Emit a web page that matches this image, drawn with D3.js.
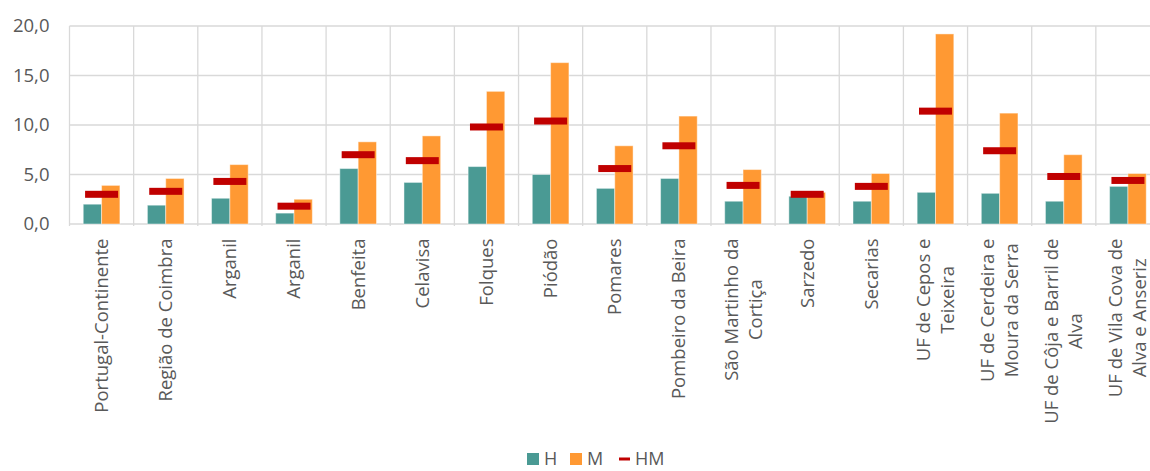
<!DOCTYPE html>
<html>
<head>
<meta charset="utf-8">
<script src="https://cdn.jsdelivr.net/npm/d3@7/dist/d3.min.js"></script>
<style>
  html, body { margin: 0; padding: 0; background: #fff; }
  svg { display: block; font-family: "Open Sans", sans-serif; }
</style>
</head>
<body>
<svg id="chart" width="1150" height="471"></svg>
<script>
const categories = [
  "Portugal-Continente", "Região de Coimbra", "Arganil", "Arganil", "Benfeita",
  "Celavisa", "Folques", "Piódão", "Pomares", "Pombeiro da Beira",
  "São Martinho da\nCortiça", "Sarzedo", "Secarias", "UF de Cepos e\nTeixeira",
  "UF de Cerdeira e\nMoura da Serra", "UF de Côja e Barril de\nAlva", "UF de Vila Cova de\nAlva e Anseriz"
];
const valuesH  = [2.0, 1.9, 2.6, 1.1, 5.6, 4.2, 5.8, 5.0, 3.6, 4.6, 2.3, 2.8, 2.3, 3.2, 3.1, 2.3, 3.8];
const valuesM  = [3.9, 4.6, 6.0, 2.5, 8.3, 8.9, 13.4, 16.3, 7.9, 10.9, 5.5, 3.2, 5.1, 19.2, 11.2, 7.0, 5.1];
const valuesHM = [3.0, 3.3, 4.3, 1.8, 7.0, 6.4, 9.8, 10.4, 5.6, 7.9, 3.9, 3.0, 3.8, 11.4, 7.4, 4.8, 4.4];
const yTicks = [0, 5, 10, 15, 20];
const seriesNames = ["H", "M", "HM"];

const colors = { H: "#4A9A94", M: "#FF9933", HM: "#C00000" };
const textColor = "#595959";
const gridColor = "#D9D9D9";

(function () {
const svg = d3.select("#chart");
const pLeft = 69.5, pRight = 1160, pTop = 26, pBottom = 224;

const x = d3.scaleBand().domain(d3.range(categories.length)).range([pLeft, pRight]).paddingInner(0).paddingOuter(0);
const sub = d3.scaleBand().domain(["H", "M"]).range([0, x.bandwidth()]).paddingInner(0).paddingOuter(0.75);
const y = d3.scaleLinear().domain([0, 20]).range([pBottom, pTop]);

const fmt = v => d3.format(".1f")(v).replace(".", ",");

const g = svg.append("g");
g.selectAll("line.h").data(yTicks).join("line")
  .attr("x1", pLeft).attr("x2", pRight)
  .attr("y1", d => y(d)).attr("y2", d => y(d))
  .attr("stroke", gridColor).attr("stroke-width", 1.3);
g.selectAll("line.v").data(d3.range(categories.length + 1)).join("line")
  .attr("x1", i => pLeft + i * x.step()).attr("x2", i => pLeft + i * x.step())
  .attr("y1", pTop).attr("y2", pBottom + 2)
  .attr("stroke", gridColor).attr("stroke-width", 1.3);

const yAxis = d3.axisLeft(y).tickValues(yTicks).tickFormat(fmt).tickSize(0).tickPadding(20);
const ya = svg.append("g").attr("transform", `translate(${pLeft},0)`).call(yAxis);
ya.select(".domain").remove();
ya.selectAll("text").attr("fill", textColor).style("font-size", "18.5px").style("font-family", "'Open Sans', sans-serif");

const bars = svg.append("g");
bars.selectAll("rect.h").data(valuesH).join("rect")
  .attr("x", (d, i) => x(i) + sub("H"))
  .attr("width", sub.bandwidth())
  .attr("y", d => y(d)).attr("height", d => y(0) - y(d))
  .attr("fill", colors.H).attr("stroke", "rgba(255,255,255,0.45)").attr("stroke-width", 1);
bars.selectAll("rect.m").data(valuesM).join("rect")
  .attr("x", (d, i) => x(i) + sub("M"))
  .attr("width", sub.bandwidth())
  .attr("y", d => y(d)).attr("height", d => y(0) - y(d))
  .attr("fill", colors.M).attr("stroke", "rgba(255,255,255,0.45)").attr("stroke-width", 1);

const mW = x.bandwidth() * 0.514, mH = 7;
bars.selectAll("rect.hm").data(valuesHM).join("rect")
  .attr("x", (d, i) => x(i) + x.bandwidth() / 2 - mW / 2)
  .attr("width", mW)
  .attr("y", d => y(d) - mH / 2).attr("height", mH)
  .attr("fill", colors.HM);

const lineH = 24;
const labels = svg.append("g");
categories.forEach((c, i) => {
  const lines = c.split("\n");
  const cx = x(i) + x.bandwidth() / 2;
  const t = labels.append("text")
    .attr("transform", `translate(${cx},238.5) rotate(-90)`)
    .attr("fill", textColor).style("font-size", "18.5px");
  lines.forEach(ln => { t.append("tspan").text(ln); });
  const widths = [];
  t.selectAll("tspan").each(function () { widths.push(this.getComputedTextLength()); });
  const maxW = d3.max(widths);
  const n = lines.length;
  t.selectAll("tspan")
    .attr("text-anchor", "middle")
    .attr("x", -maxW / 2)
    .attr("y", (d, k) => (k - (n - 1) / 2) * lineH)
    .attr("dy", "0.35em");
});

const legend = svg.append("g").style("font-size", "18px").attr("fill", textColor);
const legItems = [
  { name: seriesNames[0], x: 527, type: "rect" },
  { name: seriesNames[1], x: 570, type: "rect" },
  { name: seriesNames[2], x: 619, type: "line" }
];
const ly = 459;
legItems.forEach(it => {
  if (it.type === "rect") {
    legend.append("rect").attr("x", it.x).attr("y", ly - 6).attr("width", 12).attr("height", 12).attr("fill", colors[it.name]);
    legend.append("text").attr("x", it.x + 17).attr("y", ly).attr("dy", "0.35em").text(it.name);
  } else {
    legend.append("rect").attr("x", it.x).attr("y", ly - 1.5).attr("width", 11).attr("height", 3).attr("fill", colors.HM);
    legend.append("text").attr("x", it.x + 16).attr("y", ly).attr("dy", "0.35em").text(it.name);
  }
});
})();
</script>
</body>
</html>
